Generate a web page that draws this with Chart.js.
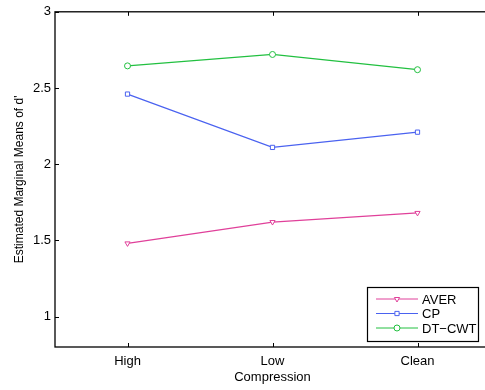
<!DOCTYPE html>
<html>
<head>
<meta charset="utf-8">
<script src="https://cdn.jsdelivr.net/npm/chart.js@4"></script>
<style>
html, body { margin: 0; padding: 0; overflow: hidden; background: #fff; }
#wrap { width: 495px; height: 390px; }
</style>
</head>
<body>
<div id="wrap"><canvas id="chart" width="495" height="390"></canvas></div>
<script>
var categories = ['High', 'Low', 'Clean'];
var averData = [1.48, 1.62, 1.68];
var cpData = [2.46, 2.11, 2.21];
var dtcwtData = [2.645, 2.72, 2.62];
var yTicks = [1, 1.5, 2, 2.5, 3];

function toPoints(values) {
    return values.map(function(v, i) { return { x: i + 1, y: v }; });
}

var FONT = 'Liberation Sans, Arial, sans-serif';

// MATLAB style inward ticks, box and legend
var boxPlugin = {
    id: 'boxPlugin',
    afterDraw: function(chart) {
        var ctx = chart.ctx;
        var a = chart.chartArea;
        var xs = chart.scales.x, ys = chart.scales.y;
        ctx.save();
        ctx.strokeStyle = '#000';
        ctx.lineWidth = 1;
        ctx.beginPath();
        for (var i = 0; i < categories.length; i++) {
            var px = Math.round(xs.getPixelForValue(i + 1)) + 0.5;
            ctx.moveTo(px, a.bottom); ctx.lineTo(px, a.bottom - 4);
            ctx.moveTo(px, a.top); ctx.lineTo(px, a.top + 4);
        }
        for (var j = 0; j < yTicks.length; j++) {
            var py = Math.round(ys.getPixelForValue(yTicks[j])) + 0.5;
            ctx.moveTo(a.left, py); ctx.lineTo(a.left + 4, py);
            ctx.moveTo(a.right, py); ctx.lineTo(a.right - 4, py);
        }
        ctx.stroke();
        ctx.lineWidth = 1.3;
        ctx.strokeRect(a.left, a.top, a.right - a.left, a.bottom - a.top);

        // legend box
        var lx = 367, ly = 287, lw = 111, lh = 54;
        ctx.fillStyle = '#fff';
        ctx.fillRect(lx, ly, lw, lh);
        ctx.strokeStyle = '#000';
        ctx.lineWidth = 1.2;
        ctx.strokeRect(lx + 0.5, ly + 0.5, lw, lh);
        ctx.font = '13px ' + FONT;
        ctx.textBaseline = 'middle';
        chart.data.datasets.forEach(function(ds, k) {
            var yy = ly + 12 + k * 14.5;
            ctx.strokeStyle = ds.borderColor;
            ctx.lineWidth = 1;
            ctx.beginPath();
            ctx.moveTo(376, yy); ctx.lineTo(418, yy);
            ctx.stroke();
            ctx.fillStyle = '#fff';
            Chart.helpers.drawPoint(ctx, {
                pointStyle: ds.pointStyle, radius: 3, rotation: ds.pointRotation || 0, borderWidth: 1
            }, 397, yy);
            ctx.fillStyle = '#000';
            ctx.fillText(ds.label, 422, yy + 1);
        });
        ctx.restore();
    }
};

new Chart(document.getElementById('chart'), {
    type: 'line',
    data: {
        datasets: [{
            label: 'AVER',
            data: toPoints(averData),
            borderColor: '#e0409a',
            backgroundColor: '#fff',
            borderWidth: 1.2,
            pointStyle: 'triangle',
            pointRotation: 180,
            pointRadius: 3,
            pointBorderWidth: 1
        }, {
            label: 'CP',
            data: toPoints(cpData),
            borderColor: '#4a62f0',
            backgroundColor: '#fff',
            borderWidth: 1.2,
            pointStyle: 'rect',
            pointRadius: 3,
            pointBorderWidth: 1
        }, {
            label: 'DT\u2212CWT',
            data: toPoints(dtcwtData),
            borderColor: '#22c040',
            backgroundColor: '#fff',
            borderWidth: 1.2,
            pointStyle: 'circle',
            pointRadius: 3,
            pointBorderWidth: 1
        }]
    },
    options: {
        responsive: false,
        animation: false,
        layout: { padding: { top: -2, right: 3, left: 0, bottom: 0 } },
        plugins: { legend: { display: false }, tooltip: { enabled: false } },
        scales: {
            x: {
                type: 'linear',
                min: 0.5,
                max: 3.5,
                afterBuildTicks: function(scale) {
                    scale.ticks = categories.map(function(c, i) { return { value: i + 1 }; });
                },
                afterFit: function(scale) { scale.height = 43; },
                grid: { display: false, drawTicks: false },
                border: { display: false },
                ticks: {
                    color: '#000',
                    padding: 7,
                    font: { family: FONT, size: 13 },
                    callback: function(v) { return categories[v - 1]; }
                },
                title: {
                    display: true,
                    text: 'Compression',
                    color: '#000',
                    font: { family: FONT, size: 13 },
                    padding: { top: 0, bottom: 5 }
                }
            },
            y: {
                min: 0.8,
                max: 3,
                afterBuildTicks: function(scale) {
                    scale.ticks = yTicks.map(function(v) { return { value: v }; });
                },
                afterFit: function(scale) { scale.width = 55; },
                grid: { display: false, drawTicks: false },
                border: { display: false },
                ticks: {
                    color: '#000',
                    padding: 4,
                    font: { family: FONT, size: 13 },
                    callback: function(v) { return String(v); }
                },
                title: {
                    display: true,
                    text: "Estimated Marginal Means of d'",
                    color: '#000',
                    font: { family: FONT, size: 12 },
                    padding: { top: 12, bottom: 0 }
                }
            }
        }
    },
    plugins: [boxPlugin]
});
</script>
</body>
</html>
